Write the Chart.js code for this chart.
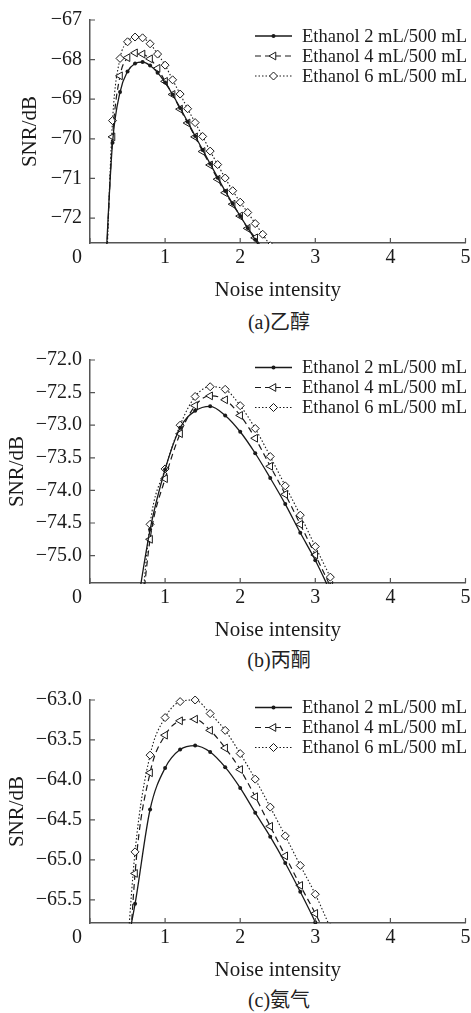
<!DOCTYPE html>
<html>
<head>
<meta charset="utf-8">
<script src="https://cdn.jsdelivr.net/npm/chart.js@4.4.0/dist/chart.umd.min.js"></script>
<style>
  body { margin: 0; background: #fff; }
  #page { position: relative; width: 471px; height: 1013px; }
  .box { position: absolute; left: 0; width: 471px; height: 305px; }
  .caption { position: absolute; left: 90px; width: 378px; text-align: center;
             font: 20px "Liberation Serif", "Noto Sans CJK SC", serif; color: #222; line-height: 24px; }
</style>
</head>
<body>
<div id="page">
  <div class="box" style="top:0px"><canvas id="chartA" width="471" height="305"></canvas></div>
  <div class="caption" style="top:310px">(a)乙醇</div>
  <div class="box" style="top:340px"><canvas id="chartB" width="471" height="305"></canvas></div>
  <div class="caption" style="top:648px">(b)丙酮</div>
  <div class="box" style="top:680px"><canvas id="chartC" width="471" height="305"></canvas></div>
  <div class="caption" style="top:988px">(c)氨气</div>
</div>
<script>
const legendLabels = ["Ethanol 2 mL/500 mL", "Ethanol 4 mL/500 mL", "Ethanol 6 mL/500 mL"];
const xTicks = [0, 1, 2, 3, 4, 5];

// (a) 乙醇
const xA = [0.2, 0.3, 0.4, 0.5, 0.6, 0.7, 0.8, 0.9, 1.0, 1.1, 1.2, 1.3, 1.4, 1.5, 1.6, 1.7, 1.8, 1.9, 2.0, 2.1, 2.2, 2.3, 2.4];
const a2 = [-73.5, -70.1, -68.82, -68.30, -68.10, -68.06, -68.15, -68.33, -68.58, -68.88, -69.22, -69.57, -69.93, -70.28, -70.63, -70.98, -71.32, -71.64, -71.95, -72.25, -72.55, -72.85, null];
const a4 = [-73.8, -69.95, -68.41, -67.95, -67.83, -67.86, -67.98, -68.22, -68.55, -68.88, -69.25, -69.60, -69.95, -70.32, -70.66, -71.02, -71.36, -71.65, -71.95, -72.26, -72.50, -72.80, null];
const a6 = [-74.3, -69.54, -67.97, -67.55, -67.43, -67.45, -67.60, -67.86, -68.14, -68.51, -68.87, -69.24, -69.59, -69.94, -70.31, -70.65, -70.99, -71.31, -71.60, -71.86, -72.14, -72.41, -72.70];
const yTicksA = [-72, -71, -70, -69, -68, -67];

// (b) 丙酮
const xB = [0.6, 0.8, 1.0, 1.2, 1.4, 1.6, 1.8, 2.0, 2.2, 2.4, 2.6, 2.8, 3.0, 3.2, 3.4];
const b2 = [-76.0, -74.60, -73.68, -73.04, -72.78, -72.71, -72.85, -73.10, -73.43, -73.81, -74.21, -74.65, -75.07, -75.55, null];
const b4 = [-77.0, -74.75, -73.82, -73.13, -72.70, -72.55, -72.61, -72.85, -73.20, -73.63, -74.06, -74.52, -74.99, -75.47, null];
const b6 = [-77.1, -74.52, -73.67, -73.00, -72.56, -72.41, -72.45, -72.70, -73.05, -73.48, -73.93, -74.38, -74.86, -75.33, -75.80];
const yTicksB = [-75.0, -74.5, -74.0, -73.5, -73.0, -72.5, -72.0];

// (c) 氨气
const xC = [0.4, 0.6, 0.8, 1.0, 1.2, 1.4, 1.6, 1.8, 2.0, 2.2, 2.4, 2.6, 2.8, 3.0, 3.2];
const c2 = [-66.5, -65.55, -64.37, -63.85, -63.62, -63.57, -63.65, -63.84, -64.10, -64.41, -64.71, -65.04, -65.40, -65.78, -66.2];
const c4 = [-68.5, -65.17, -63.91, -63.44, -63.26, -63.24, -63.38, -63.60, -63.87, -64.21, -64.58, -64.95, -65.32, -65.67, -66.05];
const c6 = [-67.5, -64.90, -63.69, -63.22, -63.02, -63.00, -63.17, -63.38, -63.67, -63.99, -64.34, -64.70, -65.07, -65.43, -65.85];
const yTicksC = [-65.5, -65.0, -64.5, -64.0, -63.5, -63.0];

const serif = '"Liberation Serif", "Times New Roman", serif';
const ink = '#1a1a1a';
const axisGray = '#555';

function drawMarker(ctx, ds, x, y) {
  const r = ds.pointRadius;
  ctx.beginPath();
  if (ds.pointStyle === 'circle') {
    ctx.arc(x, y, r, 0, Math.PI * 2);
  } else if (ds.pointStyle === 'triangle') {
    ctx.moveTo(x - r, y);
    ctx.lineTo(x + r / 2, y - r * Math.sqrt(3) / 2);
    ctx.lineTo(x + r / 2, y + r * Math.sqrt(3) / 2);
    ctx.closePath();
  } else {
    ctx.moveTo(x, y - r);
    ctx.lineTo(x + r, y);
    ctx.lineTo(x, y + r);
    ctx.lineTo(x - r, y);
    ctx.closePath();
  }
  ctx.fillStyle = ds.pointBackgroundColor;
  ctx.fill();
  if (ds.pointBorderWidth > 0) {
    ctx.lineWidth = ds.pointBorderWidth;
    ctx.strokeStyle = ds.pointBorderColor;
    ctx.stroke();
  }
}

// legend: line sample with marker in the middle, like the figure
const lineLegend = {
  id: 'lineLegend',
  afterDraw(chart, args, opts) {
    const ctx = chart.ctx;
    chart.data.datasets.forEach((ds, i) => {
      const y = chart.chartArea.top + opts.top + i * 20;
      ctx.save();
      ctx.strokeStyle = ds.borderColor;
      ctx.lineWidth = ds.borderWidth;
      ctx.setLineDash(ds.borderDash || []);
      ctx.beginPath();
      ctx.moveTo(opts.x, y);
      ctx.lineTo(opts.x + 37, y);
      ctx.stroke();
      ctx.setLineDash([]);
      drawMarker(ctx, ds, opts.x + 18.5, y);
      ctx.fillStyle = ink;
      ctx.font = '18.5px ' + serif;
      ctx.textBaseline = 'middle';
      ctx.textAlign = 'left';
      ctx.fillText(ds.label, opts.x + 47, y + 1);
      ctx.restore();
    });
  }
};

// tick marks pointing into the plot, and the "0" at the origin
const inwardTicks = {
  id: 'inwardTicks',
  afterDraw(chart) {
    const { ctx, chartArea: a, scales: { x, y } } = chart;
    ctx.save();
    ctx.strokeStyle = axisGray;
    ctx.lineWidth = 1.2;
    ctx.beginPath();
    x.ticks.forEach(t => {
      const px = x.getPixelForValue(t.value);
      ctx.moveTo(px, a.bottom);
      ctx.lineTo(px, a.bottom - 5);
    });
    y.ticks.forEach(t => {
      const py = y.getPixelForValue(t.value);
      ctx.moveTo(a.left, py);
      ctx.lineTo(a.left + 5, py);
    });
    ctx.stroke();
    const it = x.getLabelItems()[0];
    ctx.fillStyle = ink;
    ctx.font = it.font.string;
    ctx.textAlign = 'center';
    ctx.textBaseline = it.options.textBaseline;
    ctx.fillText('0', a.left - 13, it.options.translation[1] + it.textOffset);
    ctx.restore();
  }
};

function fmt(v, digits) {
  return v.toFixed(digits).replace('-', '\u2212');
}

function makeChart(id, xs, s2, s4, s6, yMin, yMax, yTicks, digits, yTitlePad, legendTop) {
  const pts = arr => xs.map((x, i) => ({ x: x, y: arr[i] }));
  const clip = { left: 10, top: 10, right: 10, bottom: 1 };
  new Chart(document.getElementById(id), {
    type: 'line',
    data: {
      datasets: [
        { label: legendLabels[0], data: pts(s2), borderColor: ink, borderWidth: 1.3,
          pointStyle: 'circle', pointRadius: 2, pointBackgroundColor: ink, pointBorderColor: ink,
          pointBorderWidth: 0, cubicInterpolationMode: 'monotone', clip: clip },
        { label: legendLabels[1], data: pts(s4), borderColor: ink, borderWidth: 1.2, borderDash: [6, 4],
          pointStyle: 'triangle', rotation: -90, pointRadius: 4.5, pointBackgroundColor: '#fff',
          pointBorderColor: ink, pointBorderWidth: 1, cubicInterpolationMode: 'monotone', clip: clip },
        { label: legendLabels[2], data: pts(s6), borderColor: ink, borderWidth: 1.1, borderDash: [1.5, 2],
          pointStyle: 'rectRot', pointRadius: 4, pointBackgroundColor: '#fff',
          pointBorderColor: ink, pointBorderWidth: 1, cubicInterpolationMode: 'monotone', clip: clip }
      ]
    },
    options: {
      responsive: false,
      animation: false,
      layout: { padding: { top: 16, right: 3, left: 0, bottom: 0 } },
      plugins: {
        legend: { display: false },
        tooltip: { enabled: false },
        lineLegend: { x: 255, top: legendTop }
      },
      scales: {
        x: {
          type: 'linear',
          min: 0,
          max: 5,
          afterBuildTicks: s => { s.ticks = xTicks.map(v => ({ value: v })); },
          afterFit: s => { s.height = 62; s.paddingLeft = 0; s.paddingRight = 0; },
          grid: { display: false, drawTicks: false },
          border: { display: true, color: axisGray, width: 1.5 },
          ticks: {
            padding: 3,
            color: ink,
            font: { family: serif, size: 20 },
            maxRotation: 0,
            callback: v => (v === 0 ? '' : String(v))
          },
          title: {
            display: true,
            text: 'Noise intensity',
            color: ink,
            font: { family: serif, size: 21 },
            padding: { top: 0, bottom: 2.4 }
          }
        },
        y: {
          min: yMin,
          max: yMax,
          afterBuildTicks: s => { s.ticks = yTicks.map(v => ({ value: v })); },
          afterFit: s => { s.width = 90; },
          grid: { display: false, drawTicks: false },
          border: { display: true, color: axisGray, width: 1.5 },
          ticks: {
            padding: 8,
            color: ink,
            font: { family: serif, size: 20 },
            callback: v => fmt(v, digits)
          },
          title: {
            display: true,
            text: 'SNR/dB',
            color: ink,
            font: { family: serif, size: 21 },
            padding: { top: yTitlePad, bottom: 0 }
          }
        }
      }
    },
    plugins: [lineLegend, inwardTicks]
  });
}

makeChart('chartA', xA, a2, a4, a6, -72.63, -67, yTicksA, 0, 17.4, 16);
makeChart('chartB', xB, b2, b4, b6, -75.42, -72, yTicksB, 1, 4.4, 7.5);
makeChart('chartC', xC, c2, c4, c6, -65.79, -63, yTicksC, 1, 4.4, 7.5);
</script>
</body>
</html>
